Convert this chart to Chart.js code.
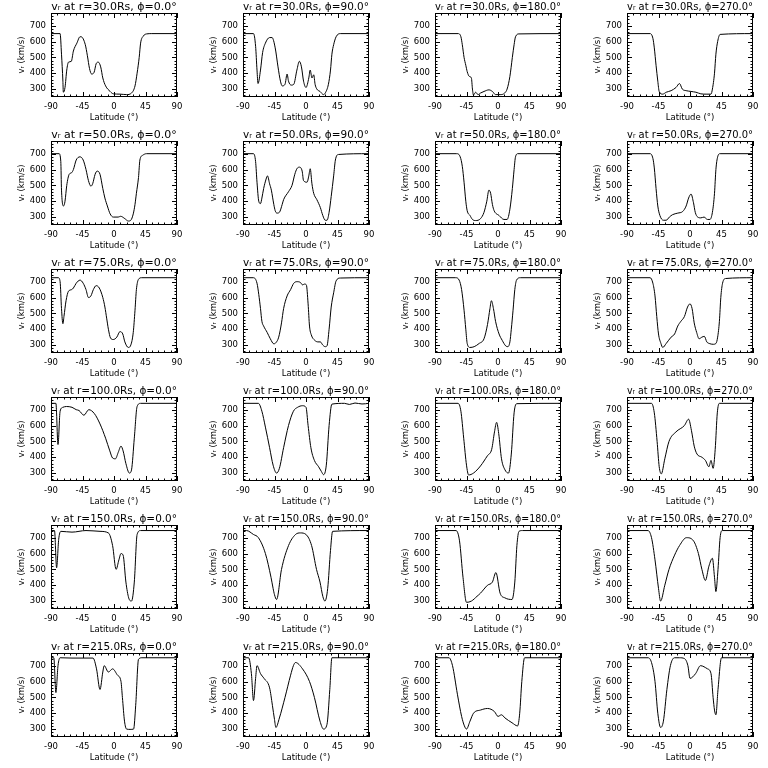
<!DOCTYPE html>
<html><head><meta charset="utf-8">
<script src="https://cdn.jsdelivr.net/npm/chart.js@4.4.0/dist/chart.umd.min.js"></script>
<style>
html,body{margin:0;padding:0;background:#fff;}
#grid{position:relative;width:768px;height:768px;background:#fff;}
#grid canvas{position:absolute;}
</style></head><body><div id="grid"></div>
<script>
const radii = [30, 50, 75, 100, 150, 215];
const phis = [0, 90, 180, 270];
const xTicks = [-90, -45, 0, 45, 90];
const yTicks = [300, 400, 500, 600, 700];
const xRange = [-90, 90];
const yRange = [250, 780];

// r = 30 Rs
const lat_r30_p0 = [-90,-77,-75,-73,-72.4,-70,-67.5,-65,-61,-58,-53,-48.5,-47,-41,-38,-35,-32,-28.5,-25.5,-22.5,-19,-16,-12,-5.5,-1,8.5,18,25,30,33,36,38,42,46.5,54,90];
const v_r30_p0   = [650,650,520,350,280,310,420,470,475,540,590,630,630,580,510,430,395,405,460,470,440,370,320,285,270,268,265,275,320,400,500,590,635,648,650,650];
const lat_r30_p90 = [-90,-75,-72,-70,-68.5,-65,-62,-58,-52,-48.5,-44,-40,-36.5,-34,-30,-27,-25,-21,-17.5,-13,-9.5,-6.5,-3.5,0,4,6,8.5,11,13,15.5,20,25,27.5,32,35,37,39.5,43,49,90];
const v_r30_p90   = [650,650,570,420,335,420,530,590,625,625,560,440,350,320,330,395,350,325,330,420,475,440,350,310,370,420,370,390,330,300,285,265,275,330,420,520,580,630,650,650];
const lat_r30_p180 = [-90,-57,-53,-51,-48.5,-46,-44,-41,-38,-36.5,-35,-32,-28.5,-25,-20,-13,-8,-3.5,4,9.5,13,17,20.5,23,25,30,90];
const v_r30_p180   = [650,650,630,580,500,450,410,380,370,300,262,280,265,275,285,295,285,265,265,275,300,380,500,580,630,648,650];
const lat_r30_p270 = [-90,-57,-53,-51,-48.5,-46,-44,-39,-34,-27,-20,-15,-11,-5.5,1.5,8.5,15.5,23,30,32,35,37,39.5,43,90];
const v_r30_p270   = [650,650,620,560,450,350,285,268,280,290,310,335,300,290,285,280,270,268,268,300,400,520,600,645,650];

// r = 50 Rs
const lat_r50_p0 = [-90,-78.5,-76,-75,-72,-70,-67.5,-64,-60.5,-58,-54,-48.5,-44,-40,-36.5,-33,-30.5,-27,-24,-20,-16,-13,-9.5,-5.5,-1,6,9.5,15.5,20.5,24,27.5,30,32,35,37,41,46.5,90];
const v_r50_p0   = [700,700,650,470,370,400,500,570,580,600,660,680,660,600,530,495,510,570,590,570,480,420,370,320,300,300,305,290,275,280,320,380,450,550,660,690,700,700];
const lat_r50_p90 = [-90,-75,-72,-70,-67.5,-65,-63,-60.5,-57,-55,-52,-49.5,-46,-44,-41.5,-38,-34,-32,-25,-20,-16,-13,-9.5,-5.5,-3.5,1.5,4,6,8.5,11,15.5,20.5,24,27.5,30,33,36,39.5,42,46.5,90];
const v_r50_p90   = [700,700,650,520,400,385,420,480,540,560,510,470,380,340,325,330,380,410,460,500,570,605,615,590,530,520,560,605,510,450,410,360,310,280,280,330,430,560,660,695,700];
const lat_r50_p180 = [-90,-59,-54,-51,-48.5,-46,-44,-40,-36.5,-32,-25,-20,-16,-13,-10.5,-8,-5.5,1.5,8.5,13,17,20.5,23,25,28.5,90];
const v_r50_p180   = [700,700,680,620,520,400,340,310,285,278,290,330,400,470,450,380,340,310,285,285,350,480,600,680,700,700];
const lat_r50_p270 = [-90,-57,-53,-51,-48.5,-46,-43,-38,-34,-29.5,-25,-17.5,-10.5,-5.5,-2,1.5,5,7.5,11,15.5,20,25,28.5,32,35,37,39.5,43,90];
const v_r50_p270   = [700,700,670,610,480,370,310,280,280,300,315,325,335,370,420,445,390,330,300,295,300,285,285,330,450,600,680,700,700];

// r = 75 Rs
const lat_r75_p0 = [-90,-79.5,-77,-75,-73,-71.5,-68.5,-65,-60.5,-58,-54,-48.5,-44,-40,-36.5,-33,-29.5,-25.5,-21,-16,-13,-10.5,-8,-5,-1,4,8.5,12.5,15.5,20.5,24,27.5,30,32,35,39.5,90];
const v_r75_p0   = [725,725,700,530,435,480,580,640,650,660,690,710,690,650,600,610,650,675,660,600,540,470,400,345,335,350,385,370,320,285,300,380,520,650,715,725,725];
const lat_r75_p90 = [-90,-75,-70,-67.5,-65,-63,-60.5,-55.5,-51,-46,-43,-39,-35,-32,-27,-22,-17.5,-13,-8,-5,-2,0.5,3,5,7.5,12.5,17,20.5,24,27.5,30,33,36,39.5,43,49,90];
const v_r75_p90   = [725,725,690,620,530,450,420,380,340,308,315,350,440,530,610,650,690,700,695,680,685,680,560,420,365,330,320,320,300,290,295,400,540,630,705,723,725];
const lat_r75_p180 = [-90,-60.5,-55.5,-52,-48.5,-46,-44,-40,-34,-27,-20,-15,-11.5,-9.5,-6.5,-3.5,1.5,6,11,14,17,19,21.5,24,26.5,32,90];
const v_r75_p180   = [725,725,710,650,520,400,310,285,290,310,340,430,530,580,530,450,370,330,295,290,320,400,520,650,710,725,725];
const lat_r75_p270 = [-90,-57,-53,-50,-47.5,-45,-41.5,-39,-34,-27,-22,-17.5,-13,-8,-3.5,0,3,6,9.5,13,17,20.5,24,27.5,33,37,39.5,42,44,46.5,51,90];
const v_r75_p270   = [725,725,690,610,480,370,310,285,310,350,370,420,450,480,540,560,530,440,380,340,350,355,320,310,305,310,350,450,600,690,720,725];

// r = 100 Rs
const lat_r100_p0 = [-90,-83,-80,-77,-73,-68,-60,-54,-50,-43,-36,-28,-20,-12,-6,-2,2,6,10,13,17,22,25,29,33,38,90];
const v_r100_p0   = [740,740,480,690,715,720,715,700,695,665,700,675,610,520,440,395,390,430,470,440,360,300,320,520,720,740,740];
const lat_r100_p90 = [-90,-68,-63,-58,-52,-47,-42,-38,-32,-25,-18,-12,-5,0,3,7,12,18,22,25,29,33,37,55,62,70,80,90];
const v_r100_p90   = [740,740,690,590,460,350,300,330,460,600,690,715,725,715,600,460,380,340,310,290,350,600,735,740,733,742,736,740];
const lat_r100_p180 = [-90,-57,-53,-49,-45,-42,-35,-25,-15,-9,-5,-2,1,5,10,15,19,23,27,90];
const v_r100_p180   = [740,740,690,520,350,288,300,345,410,450,560,620,550,390,320,300,420,680,738,740];
const lat_r100_p270 = [-90,-55,-51,-47,-44,-41,-36,-30,-20,-8,-2,2,6,10,17,22,27,30,33,36,39,42,90];
const v_r100_p270   = [740,740,680,500,340,295,390,500,560,600,640,570,470,420,400,380,340,380,330,450,680,740,740];

// r = 150 Rs
const lat_r150_p0 = [-90,-85,-82,-79,-76,-60,-40,-20,-8,-2,3,7,10,13,17,21,25,29,33,38,90];
const v_r150_p0   = [745,745,510,690,740,735,745,740,730,650,500,560,600,590,420,320,300,420,720,745,745];
const lat_r150_p90 = [-90,-85,-75,-68,-58,-50,-47,-45,-42,-35,-25,-15,-8,0,8,15,20,24,27,31,35,38,90];
const v_r150_p90   = [745,745,720,700,600,450,380,340,310,500,650,720,730,720,650,500,420,330,300,380,620,740,745];
const lat_r150_p180 = [-90,-60,-55,-50,-45,-38,-30,-25,-15,-8,-3,3,10,20,24,27,30,35,90];
const v_r150_p180   = [745,745,680,450,292,300,330,350,400,420,480,350,320,310,420,650,740,745,745];
const lat_r150_p270 = [-90,-60,-55,-50,-45,-42,-36,-30,-22,-15,-5,5,12,17,22,27,32,35,37,40,43,46,90];
const v_r150_p270   = [745,745,700,560,380,300,400,500,590,650,700,680,600,500,430,520,570,450,360,500,700,745,745];

// r = 215 Rs
const lat_r215_p0 = [-90,-86,-83,-80,-77,-60,-30,-25,-20,-16,-14,-8,-2,5,10,12,15,18,23,28,31,35,40,90];
const v_r215_p0   = [750,750,530,700,750,748,748,680,550,660,700,660,680,640,600,500,350,300,298,300,450,740,750,750];
const lat_r215_p90 = [-90,-82,-78,-75,-72,-70,-65,-60,-52,-48,-45,-43,-38,-30,-22,-18,-15,-5,5,12,20,25,30,34,37,90];
const v_r215_p90   = [750,750,650,480,620,700,650,620,560,450,360,310,370,500,640,700,720,680,600,500,350,300,330,550,750,750];
const lat_r215_p180 = [-90,-70,-65,-58,-52,-48,-45,-40,-35,-25,-15,-5,0,5,10,20,28,31,34,38,90];
const v_r215_p180   = [750,750,700,520,380,320,300,350,400,420,430,410,380,390,370,340,320,400,600,750,750];
const lat_r215_p270 = [-90,-60,-55,-50,-46,-42,-38,-33,-28,-22,-15,-8,-3,0,8,15,25,30,33,35,37,40,45,90];
const v_r215_p270   = [750,750,720,600,400,310,350,550,700,750,750,745,700,620,650,700,680,650,500,420,390,550,750,750];

const panels = [
  [lat_r30_p0, v_r30_p0], [lat_r30_p90, v_r30_p90], [lat_r30_p180, v_r30_p180], [lat_r30_p270, v_r30_p270],
  [lat_r50_p0, v_r50_p0], [lat_r50_p90, v_r50_p90], [lat_r50_p180, v_r50_p180], [lat_r50_p270, v_r50_p270],
  [lat_r75_p0, v_r75_p0], [lat_r75_p90, v_r75_p90], [lat_r75_p180, v_r75_p180], [lat_r75_p270, v_r75_p270],
  [lat_r100_p0, v_r100_p0], [lat_r100_p90, v_r100_p90], [lat_r100_p180, v_r100_p180], [lat_r100_p270, v_r100_p270],
  [lat_r150_p0, v_r150_p0], [lat_r150_p90, v_r150_p90], [lat_r150_p180, v_r150_p180], [lat_r150_p270, v_r150_p270],
  [lat_r215_p0, v_r215_p0], [lat_r215_p90, v_r215_p90], [lat_r215_p180, v_r215_p180], [lat_r215_p270, v_r215_p270]
];

const FONT = "'DejaVu Sans', sans-serif";

// Box frame with inward major/minor ticks (IDL style), positioned via the chart scales
const framePlugin = {
  id: 'frameTicks',
  afterDatasetsDraw(chart) {
    const {ctx, chartArea: a, scales: {x, y}} = chart;
    ctx.save();
    ctx.strokeStyle = '#000';
    ctx.lineWidth = 1;
    ctx.strokeRect(Math.round(a.left) + 0.5, Math.round(a.top) + 0.5,
                   Math.round(a.right - a.left) - 1, Math.round(a.bottom - a.top) - 1);
    ctx.beginPath();
    for (let v = xRange[0]; v <= xRange[1]; v += 9) {
      const len = (v % 45 === 0) ? 5 : 2.5;
      const px = Math.round(x.getPixelForValue(v)) + 0.5;
      ctx.moveTo(px, a.bottom); ctx.lineTo(px, a.bottom - len);
      ctx.moveTo(px, a.top); ctx.lineTo(px, a.top + len);
    }
    for (let v = 260; v <= yRange[1]; v += 20) {
      const len = (v % 100 === 0) ? 5 : 2.5;
      const py = Math.round(y.getPixelForValue(v)) + 0.5;
      ctx.moveTo(a.left, py); ctx.lineTo(a.left + len, py);
      ctx.moveTo(a.right, py); ctx.lineTo(a.right - len, py);
    }
    ctx.stroke();
    ctx.restore();
  }
};

const grid = document.getElementById('grid');
panels.forEach((p, i) => {
  const row = Math.floor(i / 4), col = i % 4;
  const cv = document.createElement('canvas');
  cv.width = 192; cv.height = 128;
  cv.style.left = (col * 192) + 'px';
  cv.style.top = (row * 128) + 'px';
  cv.style.width = '192px'; cv.style.height = '128px';
  grid.appendChild(cv);
  const [lat, vel] = p;
  const title = 'v\u1D63 at r=' + radii[row].toFixed(1) + 'Rs, \u03D5=' + phis[col].toFixed(1) + '\u00B0';
  new Chart(cv, {
    type: 'line',
    data: {
      datasets: [{
        data: lat.map((x, k) => ({x: x, y: vel[k]})),
        borderColor: '#000',
        borderWidth: 1,
        pointRadius: 0,
        cubicInterpolationMode: 'monotone',
        fill: false
      }]
    },
    options: {
      responsive: false,
      devicePixelRatio: 1,
      animation: false,
      events: [],
      layout: { padding: { left: 0, right: 15, top: 0, bottom: 0 } },
      plugins: {
        legend: { display: false },
        tooltip: { enabled: false },
        title: {
          display: true, text: title, color: '#000', fullSize: false,
          font: { family: FONT, size: 11, weight: 'normal', lineHeight: 1 },
          padding: { top: 2, bottom: 0 }
        }
      },
      scales: {
        x: {
          type: 'linear', min: xRange[0], max: xRange[1],
          afterBuildTicks: s => { s.ticks = xTicks.map(v => ({value: v})); },
          afterFit: s => { s.height = 31; },
          grid: { display: false, drawTicks: false },
          border: { display: false },
          ticks: { color: '#000', font: { family: FONT, size: 8.5 }, padding: 5, maxRotation: 0, autoSkip: false },
          title: { display: true, text: 'Latitude (\u00B0)', color: '#000', font: { family: FONT, size: 8.5, lineHeight: 1.2 }, padding: { top: 0, bottom: 5 } }
        },
        y: {
          type: 'linear', min: yRange[0], max: yRange[1],
          afterBuildTicks: s => { s.ticks = yTicks.map(v => ({value: v})); },
          afterFit: s => { s.width = 51; },
          grid: { display: false, drawTicks: false },
          border: { display: false },
          ticks: { color: '#000', font: { family: FONT, size: 8.5 }, padding: 5 },
          title: { display: true, text: 'v\u1D63 (km/s)', color: '#000', font: { family: FONT, size: 8.5, lineHeight: 1.2 }, padding: { top: 17, bottom: 0 } }
        }
      }
    },
    plugins: [framePlugin]
  });
});
</script>
</body></html>
